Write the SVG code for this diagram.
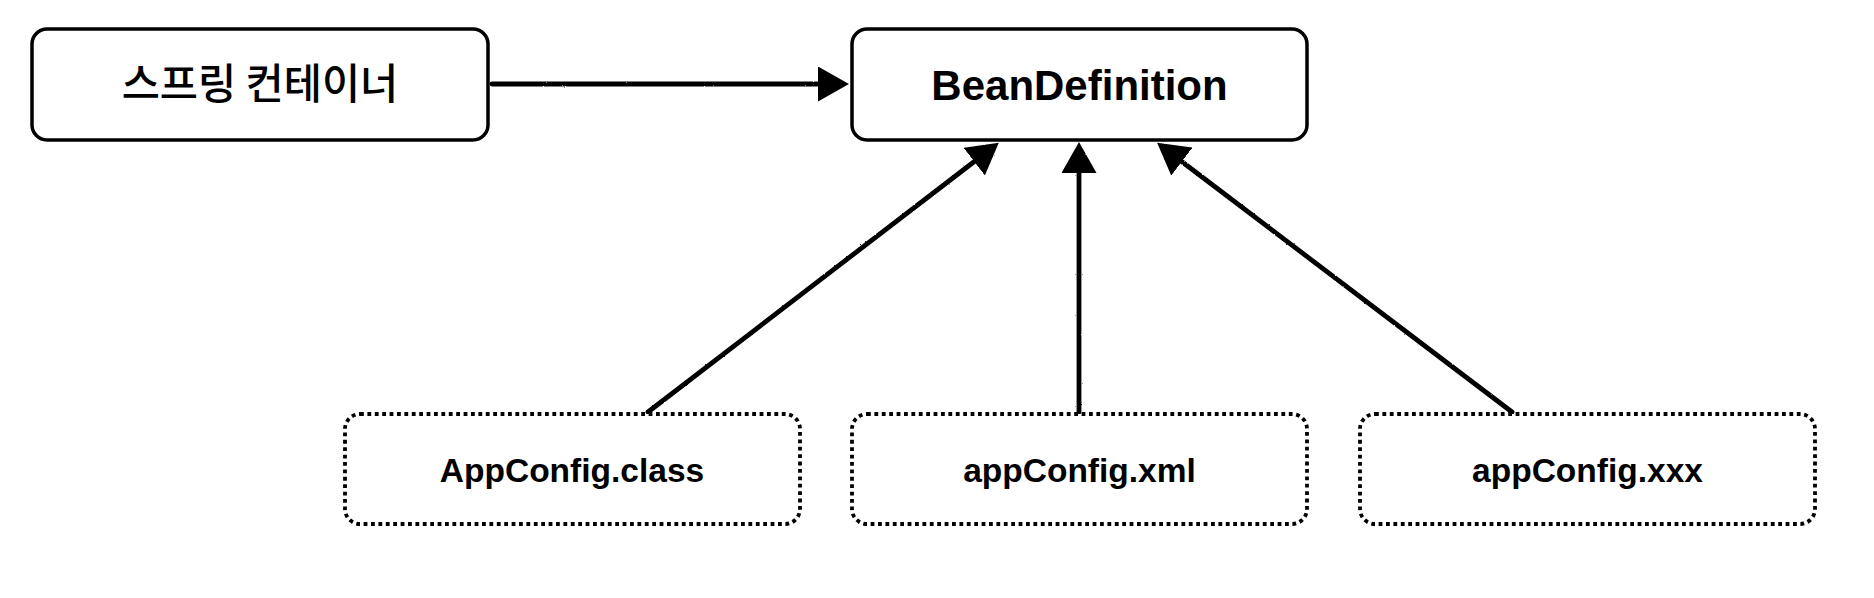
<svg xmlns="http://www.w3.org/2000/svg" width="1874" height="598" viewBox="0 0 1874 598">
<style>
.solid{fill:#fff;stroke:#000;stroke-width:3.5}
.dotted{fill:#fff;stroke:#000;stroke-width:3.8;stroke-dasharray:3.8 3.6}
.lbl{font-family:"Liberation Sans",Arial,sans-serif;font-weight:bold;fill:#000;text-anchor:middle}
.ko{font-family:"Noto Sans CJK KR","Noto Sans",sans-serif;font-weight:500;fill:#000;text-anchor:middle}
.conn{fill:none;stroke:#000;stroke-width:4.8;stroke-linecap:round}
</style>
<defs>
<marker id="ah" markerUnits="userSpaceOnUse" viewBox="0 0 31 35" markerWidth="31" markerHeight="35" refX="1" refY="17.5" orient="auto">
<path d="M0,0 L31,17.5 L0,35 Z" fill="#000"/>
</marker>
<filter id="rough" x="-5%" y="-5%" width="110%" height="110%">
<feTurbulence type="fractalNoise" baseFrequency="0.9" numOctaves="1" seed="3"/>
<feDisplacementMap in="SourceGraphic" scale="2" xChannelSelector="R" yChannelSelector="G"/>
</filter>
</defs>
<rect width="1874" height="598" fill="#fff"/>
<g id="connectors" filter="url(#rough)">
<path class="conn" d="M492,84 L819,84" marker-end="url(#ah)"/>
<path class="conn" d="M648,412 L975,161" marker-end="url(#ah)"/>
<path class="conn" d="M1079,412 L1079,172" marker-end="url(#ah)"/>
<path class="conn" d="M1512,412 L1181,161" marker-end="url(#ah)"/>
</g>
<g id="spring-container">
<rect class="solid" x="32" y="29" width="456" height="111" rx="15"/>
<text class="ko" x="260" y="99" font-size="41.5">스프링 컨테이너</text>
</g>
<g id="bean-definition">
<rect class="solid" x="852" y="29" width="455" height="111" rx="15"/>
<text class="lbl" x="1079.5" y="100" font-size="42">BeanDefinition</text>
</g>
<g id="appconfig-class">
<rect class="dotted" x="345" y="414" width="455" height="110" rx="15"/>
<text class="lbl" x="572" y="482" font-size="33.5">AppConfig.class</text>
</g>
<g id="appconfig-xml">
<rect class="dotted" x="852" y="414" width="455" height="110" rx="15"/>
<text class="lbl" x="1079.5" y="482" font-size="33.5">appConfig.xml</text>
</g>
<g id="appconfig-xxx">
<rect class="dotted" x="1360" y="414" width="455" height="110" rx="15"/>
<text class="lbl" x="1587.5" y="482" font-size="33.5">appConfig.xxx</text>
</g>
</svg>
